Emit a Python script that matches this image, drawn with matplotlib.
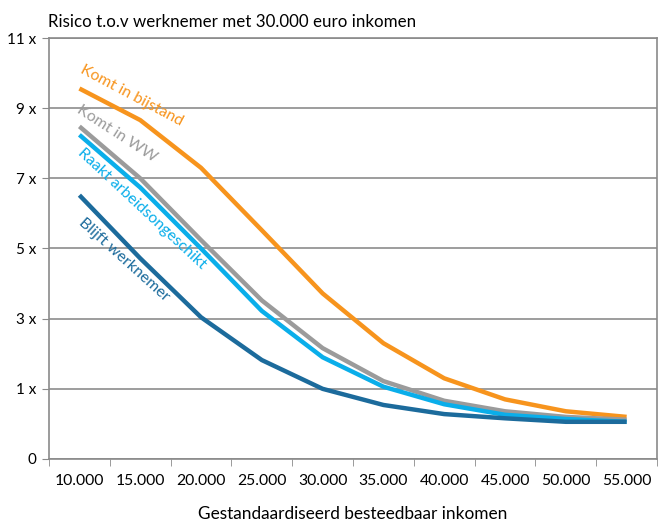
import matplotlib
matplotlib.use("Agg")
import matplotlib.pyplot as plt

categories = ["10.000", "15.000", "20.000", "25.000", "30.000",
              "35.000", "40.000", "45.000", "50.000", "55.000"]
y_ticklabels = ["0", "1 x", "3 x", "5 x", "7 x", "9 x", "11 x"]

# values in axis units (each tick step = one unit)
bijstand = [5.28, 4.83, 4.15, 3.26, 2.36, 1.65, 1.15, 0.85, 0.68, 0.60]
ww = [4.74, 4.00, 3.12, 2.26, 1.58, 1.11, 0.83, 0.68, 0.60, 0.56]
arbeidsong = [4.62, 3.87, 3.00, 2.11, 1.45, 1.03, 0.78, 0.63, 0.57, 0.53]
werknemer = [3.76, 2.86, 2.02, 1.41, 1.00, 0.77, 0.64, 0.58, 0.53, 0.53]

series = [
    ("Komt in bijstand", bijstand, "#F7941D"),
    ("Komt in WW", ww, "#9B9B9B"),
    ("Raakt arbeidsongeschikt", arbeidsong, "#0AAEEA"),
    ("Blijft werknemer", werknemer, "#1C6B9C"),
]

plt.rcParams['font.family'] = ['Lato', 'DejaVu Sans']

fig = plt.figure(figsize=(6.65, 5.22), dpi=100)
ax = fig.add_axes([0.0737, 0.1207, 0.9143, 0.8065])

x = list(range(len(categories)))
for name, vals, col in series:
    ax.plot(x, vals, color=col, lw=3.2, solid_capstyle='butt', zorder=3)

ax.set_xlim(-0.5, len(categories) - 0.5)
ax.set_ylim(0, 6)
ax.set_yticks(range(len(y_ticklabels)))
ax.set_yticklabels(y_ticklabels, fontsize=11)
ax.set_xticks(x)
ax.set_xticklabels(categories, fontsize=11.3)
ax.set_xticks([i - 0.5 for i in range(len(categories) + 1)], minor=True)
ax.tick_params(axis='x', which='major', length=0, pad=11)
ax.tick_params(axis='x', which='minor', length=5, color='#8a8a8a')
ax.tick_params(axis='y', length=5, color='#8a8a8a', pad=4)
ax.grid(axis='y', color='#8c8c8c', lw=1.2, zorder=1)
for s in ax.spines.values():
    s.set_color('#8a8a8a')
    s.set_linewidth(1.2)

ax.set_xlabel("Gestandaardiseerd besteedbaar inkomen", fontsize=12.4, labelpad=13)
fig.text(0.072, 0.957, "Risico t.o.v werknemer met 30.000 euro inkomen",
         fontsize=12.2, ha='left', va='center')

labels = [
    ("Komt in bijstand", 0.865, 5.18, -28, "#F7941D"),
    ("Komt in WW", 0.62, 4.64, -33, "#9B9B9B"),
    ("Raakt arbeidsongeschikt", 1.03, 3.56, -43, "#0AAEEA"),
    ("Blijft werknemer", 0.74, 2.84, -42, "#1C6B9C"),
]
for txt, lx, ly, rot, col in labels:
    ax.text(lx, ly, txt, color=col, fontsize=11.4, rotation=rot,
            rotation_mode='anchor', ha='center', va='center', zorder=4)

fig.savefig("out.png", dpi=100)
